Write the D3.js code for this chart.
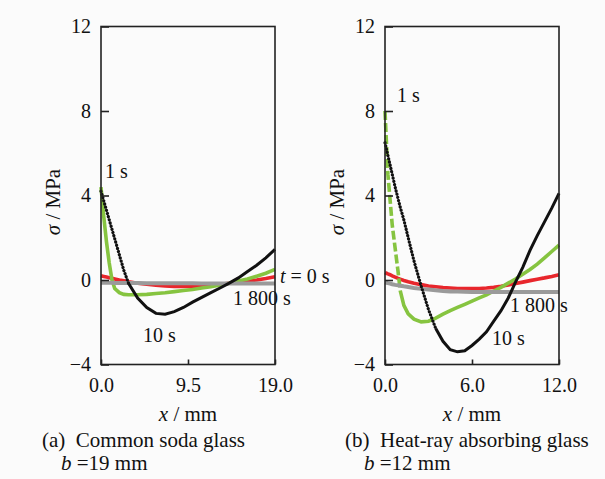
<!DOCTYPE html>
<html>
<head>
<meta charset="utf-8">
<script src="https://cdn.jsdelivr.net/npm/d3@7"></script>
<style>
  body { margin: 0; background: #fbfbfb; }
  svg { display: block; }
  svg text { font-family: 'Times New Roman', Times, 'Liberation Serif', 'DejaVu Serif', serif; fill: #111; }
</style>
</head>
<body>
<div id="chart"></div>
<script>
// panel (a): common soda glass, b = 19 mm
var xA = [0, 0.3, 0.6, 0.9, 1.2, 1.5, 2, 2.5, 3, 4, 5, 6, 7, 8, 9, 10, 11, 12, 13, 14, 15, 16, 17, 18, 19];
var a_t0   = [0.2, 0.17, 0.14, 0.11, 0.08, 0.05, 0.0, -0.04, -0.08, -0.15, -0.2, -0.25, -0.28, -0.3, -0.3, -0.3, -0.28, -0.25, -0.2, -0.15, -0.1, -0.05, 0.0, 0.07, 0.15];
var a_1s   = [4.4, 3.0, 1.8, 0.8, 0.0, -0.4, -0.6, -0.68, -0.7, -0.7, -0.68, -0.64, -0.6, -0.55, -0.5, -0.45, -0.38, -0.32, -0.24, -0.15, -0.05, 0.05, 0.18, 0.32, 0.5];
var a_1800 = [-0.13, -0.13, -0.13, -0.13, -0.13, -0.14, -0.14, -0.14, -0.14, -0.14, -0.15, -0.15, -0.15, -0.15, -0.15, -0.15, -0.16, -0.16, -0.16, -0.16, -0.16, -0.17, -0.17, -0.17, -0.17];
var a_10s  = [4.2, 3.75, 3.3, 2.85, 2.4, 1.95, 1.2, 0.45, -0.15, -0.85, -1.3, -1.58, -1.62, -1.5, -1.3, -1.05, -0.82, -0.6, -0.38, -0.15, 0.1, 0.4, 0.7, 1.05, 1.45];

// panel (b): heat-ray absorbing glass, b = 12 mm
var xB = [0, 0.1, 0.2, 0.35, 0.5, 0.7, 0.9, 1.05, 1.3, 1.6, 2, 2.5, 3, 3.5, 4, 4.5, 5, 5.5, 6, 6.5, 7, 7.5, 8, 8.5, 9, 9.5, 10, 10.5, 11, 11.5, 12];
var b_t0   = [0.35, 0.32, 0.29, 0.25, 0.2, 0.14, 0.08, 0.04, -0.02, -0.08, -0.15, -0.22, -0.28, -0.32, -0.36, -0.38, -0.4, -0.41, -0.41, -0.4, -0.38, -0.35, -0.3, -0.24, -0.17, -0.1, -0.03, 0.04, 0.1, 0.17, 0.25];
var b_1s   = [8.0, 6.5, 5.0, 3.8, 2.6, 1.5, 0.4, -0.5, -1.2, -1.6, -1.85, -1.98, -1.95, -1.8, -1.62, -1.45, -1.3, -1.15, -1.0, -0.85, -0.7, -0.52, -0.35, -0.15, 0.05, 0.27, 0.5, 0.75, 1.05, 1.35, 1.65];
var b_1800 = [-0.12, -0.13, -0.15, -0.17, -0.2, -0.23, -0.25, -0.27, -0.3, -0.33, -0.38, -0.42, -0.45, -0.49, -0.52, -0.54, -0.55, -0.56, -0.57, -0.57, -0.57, -0.57, -0.57, -0.57, -0.57, -0.57, -0.57, -0.57, -0.57, -0.57, -0.57];
var b_10s  = [6.5, 6.2, 5.9, 5.45, 5.0, 4.4, 3.85, 3.45, 2.85, 2.0, 0.9, -0.3, -1.4, -2.3, -2.9, -3.3, -3.4, -3.35, -3.1, -2.8, -2.45, -1.95, -1.45, -0.85, -0.1, 0.6, 1.4, 2.1, 2.75, 3.4, 4.1];

var yTicks = [-4, 0, 4, 8, 12];
var xTicksA = [0, 9.5, 19];
var xTicksB = [0, 6, 12];

var col_t0 = '#e8262c';
var col_1s = '#86c440';
var col_1800 = '#9a9a9a';
var col_10s = '#111';

var serif = "'Times New Roman', Times, 'Liberation Serif', 'DejaVu Serif', serif";

var width = 605, height = 479;
var svg = d3.select('#chart').append('svg')
    .attr('width', width)
    .attr('height', height)
    .style('font-family', serif);

function panel(cfg) {
    var g = svg.append('g');
    var x = d3.scaleLinear().domain(cfg.xDomain).range([cfg.left, cfg.left + 174]);
    var y = d3.scaleLinear().domain([-4, 12]).range([364.5, 26.5]);

    var line = function(xs, ys) {
        return d3.line().x(function(d) { return x(d[0]); }).y(function(d) { return y(d[1]); })
            (d3.zip(xs, ys));
    };

    // curves, red under grey
    g.append('path').attr('d', line(cfg.xs, cfg.t0))
        .attr('fill', 'none').attr('stroke', col_t0).attr('stroke-width', 3.6);
    // 1 s: dashed on the steep start in panel (b)
    var cut1 = cfg.greenCut;
    if (cut1 > 0) {
        g.append('path').attr('d', line(cfg.xs.slice(0, cut1 + 1), cfg.s1.slice(0, cut1 + 1)))
            .attr('fill', 'none').attr('stroke', col_1s).attr('stroke-width', 3.6)
            .attr('stroke-dasharray', '9,3');
    }
    g.append('path').attr('d', line(cfg.xs.slice(cut1), cfg.s1.slice(cut1)))
        .attr('fill', 'none').attr('stroke', col_1s).attr('stroke-width', 3.6);
    g.append('path').attr('d', line(cfg.xs, cfg.s1800))
        .attr('fill', 'none').attr('stroke', col_1800).attr('stroke-width', 4);
    // 10 s: dotted where steep, solid afterwards
    var cut = cfg.blackCut;
    g.append('path').attr('d', line(cfg.xs.slice(0, cut + 1), cfg.s10.slice(0, cut + 1)))
        .attr('fill', 'none').attr('stroke', col_10s).attr('stroke-width', 3.2)
        .attr('stroke-linecap', 'round').attr('stroke-dasharray', '0.1,3.2');
    g.append('path').attr('d', line(cfg.xs.slice(cut), cfg.s10.slice(cut)))
        .attr('fill', 'none').attr('stroke', col_10s).attr('stroke-width', 3);

    // frame
    g.append('rect')
        .attr('x', x.range()[0]).attr('y', y.range()[1])
        .attr('width', x.range()[1] - x.range()[0])
        .attr('height', y.range()[0] - y.range()[1])
        .attr('fill', 'none').attr('stroke', '#222').attr('stroke-width', 1.6);

    var yAxis = g.append('g').attr('transform', 'translate(' + x.range()[0] + ',0)')
        .call(d3.axisLeft(y).tickValues(yTicks).tickSize(-8).tickPadding(10)
            .tickFormat(function(d) { return d < 0 ? '\u2212' + Math.abs(d) : d; }));
    var xAxis = g.append('g').attr('transform', 'translate(0,' + y.range()[0] + ')')
        .call(d3.axisBottom(x).tickValues(cfg.xTicks).tickSize(-5).tickPadding(13)
            .tickFormat(d3.format('.1f')));
    [yAxis, xAxis].forEach(function(ax) {
        ax.attr('font-family', serif).attr('font-size', 20);
        ax.select('.domain').remove();
        ax.selectAll('line').attr('stroke', '#222').attr('stroke-width', 1.6);
        ax.selectAll('text').attr('fill', '#111');
    });

    // axis titles
    var yt = g.append('text').attr('font-size', 21).attr('text-anchor', 'middle')
        .attr('transform', 'translate(' + (x.range()[0] - 41) + ',202) rotate(-90)');
    yt.append('tspan').attr('font-style', 'italic').text('\u03c3');
    yt.append('tspan').text(' / MPa');
    var xt = g.append('text').attr('font-size', 21).attr('text-anchor', 'middle')
        .attr('x', (x.range()[0] + x.range()[1]) / 2).attr('y', 421);
    xt.append('tspan').attr('font-style', 'italic').text('x');
    xt.append('tspan').text(' / mm');

    // curve labels
    cfg.labels.forEach(function(l) {
        var t = g.append('text').attr('font-size', 20).attr('x', l.x).attr('y', l.y);
        if (l.italic) {
            t.append('tspan').attr('font-style', 'italic').text(l.italic);
        }
        t.append('tspan').text(l.text);
    });

    // caption
    g.append('text').attr('font-size', 21).attr('x', cfg.capX).attr('y', 447)
        .attr('xml:space', 'preserve').text(cfg.caption);
    var c2 = g.append('text').attr('font-size', 21).attr('x', cfg.capX + 19).attr('y', 470);
    c2.append('tspan').attr('font-style', 'italic').text('b');
    c2.append('tspan').text(' =' + cfg.b + ' mm');
}

panel({
    left: 101, xDomain: [0, 19], xTicks: xTicksA, xs: xA,
    t0: a_t0, s1: a_1s, s1800: a_1800, s10: a_10s,
    blackCut: 8, greenCut: 0,
    labels: [
        { x: 105, y: 178, text: '1 s' },
        { x: 143, y: 342, text: '10 s' },
        { x: 233, y: 305, text: '1 800 s' },
        { x: 280, y: 283, italic: 't', text: ' = 0 s' }
    ],
    caption: '(a)  Common soda glass', capX: 42, b: 19
});

panel({
    left: 385, xDomain: [0, 12], xTicks: xTicksB, xs: xB,
    t0: b_t0, s1: b_1s, s1800: b_1800, s10: b_10s,
    blackCut: 13, greenCut: 7,
    labels: [
        { x: 397, y: 102, text: '1 s' },
        { x: 492, y: 345, text: '10 s' },
        { x: 510, y: 312, text: '1 800 s' }
    ],
    caption: '(b)  Heat-ray absorbing glass', capX: 345, b: 12
});
</script>
</body>
</html>
